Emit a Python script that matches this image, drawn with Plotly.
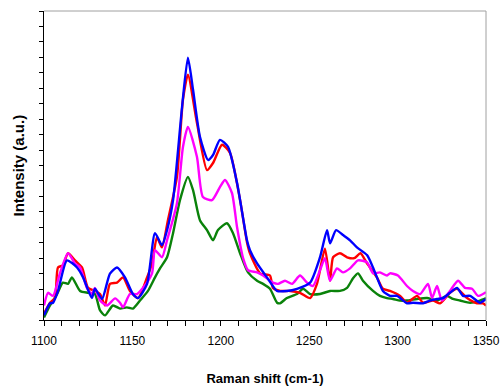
import plotly.graph_objects as go

# Raman shift (cm-1) and intensity (a.u., arbitrary 0-100 scale)
blue_x = [1100, 1103.4, 1105.1, 1107.9, 1113.0, 1118.7, 1122.1, 1127.1, 1128.8, 1132.8, 1137.3, 1141.3,
          1145.8, 1150.3, 1153.2, 1158.3, 1162.8, 1166.7, 1169.6, 1173.0, 1178.1, 1181.4, 1184.3, 1188.2,
          1192.8, 1195.6, 1199.5, 1204.1, 1209.2, 1214.8, 1216.5, 1220.5, 1226.1, 1231.8, 1237.4, 1243.1,
          1250.5, 1256.1, 1260.1, 1261.8, 1265.2, 1269.1, 1273.1, 1277.0, 1282.7, 1286.1, 1291.7, 1295.7,
          1299.7, 1305.3, 1308.7, 1314.4, 1318.3, 1322.3, 1325.7, 1329.6, 1333.6, 1337.0, 1341.0, 1346.6, 1350]
blue_y = [1.5, 5.4, 5.6, 9.4, 19.3, 17.0, 13.8, 7.1, 10.1, 6.8, 15.0, 17.0,
          13.8, 8.4, 7.1, 11.7, 28.1, 24.2, 29.1, 38.8, 69.0, 84.9, 74.5, 59.3,
          51.8, 53.4, 58.3, 56.0, 44.3, 25.8, 22.6, 18.3, 13.8, 9.4, 9.4, 10.1,
          12.1, 20.3, 29.1, 24.8, 29.1, 27.5, 25.8, 23.5, 21.0, 17.0, 9.4, 7.8,
          7.8, 5.4, 5.6, 5.4, 6.3, 6.8, 7.1, 8.8, 10.4, 7.8, 7.8, 5.6, 6.8]

red_x = [1100, 1103.4, 1106.2, 1107.9, 1110.7, 1113.6, 1117.5, 1121.5, 1124.9, 1128.8, 1131.7, 1134.5,
         1137.3, 1141.3, 1144.7, 1148.6, 1153.2, 1158.3, 1161.1, 1163.9, 1166.7, 1170.1, 1175.2, 1178.6,
         1181.4, 1186.5, 1192.2, 1195.6, 1200.7, 1205.2, 1210.9, 1214.8, 1216.5, 1222.2, 1227.8, 1229.5,
         1233.5, 1239.1, 1244.8, 1250.5, 1254.4, 1258.9, 1261.8, 1263.5, 1267.4, 1271.4, 1275.5, 1279.0,
         1282.7, 1288.3, 1291.7, 1295.7, 1301.4, 1305.3, 1311.0, 1314.4, 1320.0, 1324.0, 1329.6, 1333.6,
         1339.3, 1344.9, 1348.3, 1350]
red_y = [2.1, 5.6, 7.1, 17.0, 17.7, 21.6, 19.3, 17.0, 10.4, 9.4, 8.4, 4.7,
         11.7, 12.1, 13.8, 9.4, 7.1, 13.8, 18.3, 26.8, 23.5, 32.3, 46.3, 71.3,
         79.4, 63.8, 48.5, 50.8, 56.7, 54.1, 38.8, 25.2, 21.6, 15.1, 14.4, 10.4,
         9.4, 9.4, 8.8, 7.1, 11.7, 23.1, 12.7, 20.3, 21.6, 20.3, 20.0, 21.6,
         18.3, 13.8, 10.1, 9.4, 7.8, 5.6, 7.8, 5.6, 6.3, 5.4, 8.8, 10.1,
         7.1, 5.4, 5.4, 4.7]

magenta_x = [1100, 1102.3, 1105.1, 1109.0, 1113.6, 1117.5, 1120.4, 1124.3, 1127.1, 1128.8, 1131.7, 1135.6,
             1140.2, 1143.0, 1144.7, 1148.6, 1152.6, 1156.0, 1161.1, 1162.8, 1166.7, 1169.6, 1175.2, 1178.6,
             1181.4, 1186.5, 1189.9, 1195.0, 1199.5, 1202.4, 1206.3, 1209.2, 1212.6, 1215.4, 1220.5, 1223.9,
             1229.5, 1232.4, 1236.3, 1240.3, 1244.8, 1248.8, 1252.1, 1256.1, 1258.9, 1261.8, 1265.7, 1269.1,
             1273.1, 1277.6, 1282.7, 1286.1, 1290.0, 1294.0, 1295.7, 1300.2, 1305.3, 1308.7, 1312.7, 1317.2,
             1319.5, 1322.3, 1325.1, 1329.6, 1334.2, 1338.1, 1342.1, 1345.5, 1349.4, 1350]
magenta_y = [4.7, 8.8, 7.8, 15.1, 21.6, 18.3, 17.0, 10.4, 8.4, 10.4, 6.3, 4.7,
             7.0, 5.6, 4.1, 8.4, 8.4, 10.4, 15.1, 22.6, 20.3, 25.8, 37.8, 56.0,
             62.5, 52.8, 39.8, 38.8, 43.0, 45.3, 41.1, 30.0, 20.0, 16.1, 15.4, 14.4,
             12.1, 11.7, 12.7, 11.7, 14.4, 12.1, 11.0, 16.1, 20.0, 12.7, 16.7, 15.4,
             16.7, 19.3, 18.7, 15.1, 15.4, 14.4, 15.1, 14.4, 11.0, 9.4, 8.4, 11.7,
             7.1, 11.0, 6.3, 9.4, 12.7, 10.4, 10.1, 7.8, 8.8, 9.0]

green_x = [1100, 1103.4, 1107.4, 1110.7, 1113.6, 1115.8, 1120.4, 1124.9, 1128.8, 1131.7, 1134.5, 1139.0,
           1143.0, 1146.9, 1150.3, 1154.3, 1158.8, 1162.8, 1165.6, 1169.6, 1173.0, 1176.9, 1181.4, 1184.3,
           1188.2, 1192.2, 1195.6, 1198.4, 1203.5, 1206.9, 1210.9, 1215.4, 1220.5, 1223.9, 1227.8, 1231.8,
           1233.5, 1237.4, 1243.1, 1246.5, 1250.5, 1256.1, 1261.8, 1267.4, 1271.4, 1274.8, 1277.6, 1280.4,
           1286.1, 1290.0, 1294.0, 1297.4, 1301.4, 1305.3, 1311.0, 1316.6, 1322.3, 1327.9, 1331.3, 1335.3,
           1341.0, 1346.6, 1350]
green_y = [0.8, 4.7, 8.4, 12.1, 11.7, 13.8, 9.4, 8.8, 8.4, 3.1, 1.5, 4.7,
           3.7, 4.1, 3.7, 6.3, 9.4, 13.8, 16.7, 20.3, 28.1, 38.8, 46.3, 42.0,
           32.3, 29.1, 25.8, 29.1, 31.3, 28.1, 21.6, 15.4, 12.7, 11.7, 10.1, 5.6,
           5.4, 7.1, 8.4, 10.1, 8.4, 8.4, 9.4, 9.4, 10.4, 13.5, 15.1, 12.7,
           9.4, 7.8, 7.1, 6.8, 6.3, 6.3, 6.8, 7.1, 6.3, 7.8, 6.8, 6.3,
           5.6, 6.3, 7.1]

x_ticks = [1100, 1150, 1200, 1250, 1300, 1350]

FONT = "Liberation Sans, Arial"

fig = go.Figure()
series = [
    (green_x, green_y, "#0a820a"),
    (red_x, red_y, "#ff0000"),
    (magenta_x, magenta_y, "#ff00ff"),
    (blue_x, blue_y, "#0000ff"),
]
for xs, ys, col in series:
    fig.add_trace(go.Scatter(x=xs, y=ys, mode="lines",
                             line=dict(color=col, width=2.4, shape="spline", smoothing=0.6),
                             showlegend=False, hoverinfo="skip"))

# right and top grey frame
fig.add_shape(type="line", xref="paper", yref="paper", x0=0, x1=1, y0=1, y1=1,
              line=dict(color="#a0a0a0", width=1))
fig.add_shape(type="line", xref="paper", yref="paper", x0=1, x1=1, y0=0, y1=1,
              line=dict(color="#a0a0a0", width=1))

fig.add_annotation(text="<b>Intensity (a.u.)</b>", xref="paper", yref="paper",
                   x=0, y=0.5, xshift=-26, xanchor="center", yanchor="middle",
                   textangle=-90, showarrow=False,
                   font=dict(family=FONT, size=15, color="#000000"))

fig.update_layout(
    width=500, height=386,
    margin=dict(l=44, r=14, t=11, b=66, autoexpand=False),
    paper_bgcolor="white", plot_bgcolor="white",
    hovermode=False,
    xaxis=dict(range=[1100, 1350], tickmode="array", tickvals=x_ticks,
               ticktext=[str(v) for v in x_ticks], automargin=False,
               ticks="outside", ticklen=5, tickcolor="#000000", tickwidth=1,
               minor=dict(dtick=10, ticks="outside", ticklen=5, tickcolor="#000000", tickwidth=1),
               showline=True, linecolor="#000000", linewidth=1, showgrid=False, zeroline=False,
               ticklabelstandoff=5,
               tickfont=dict(family=FONT, size=12, color="#000000"),
               title=dict(text="<b>Raman shift (cm-1)</b>", standoff=30,
                          font=dict(family=FONT, size=13, color="#000000"))),
    yaxis=dict(range=[0, 100], dtick=5, ticks="outside", ticklen=4, tickcolor="#000000",
               showticklabels=False, showline=True, linecolor="#000000", linewidth=1,
               showgrid=False, zeroline=False, automargin=False),
)

fig.write_html("out.html", config={"displayModeBar": False},
               post_script="document.body.style.margin='0px';document.body.style.overflow='hidden';")
